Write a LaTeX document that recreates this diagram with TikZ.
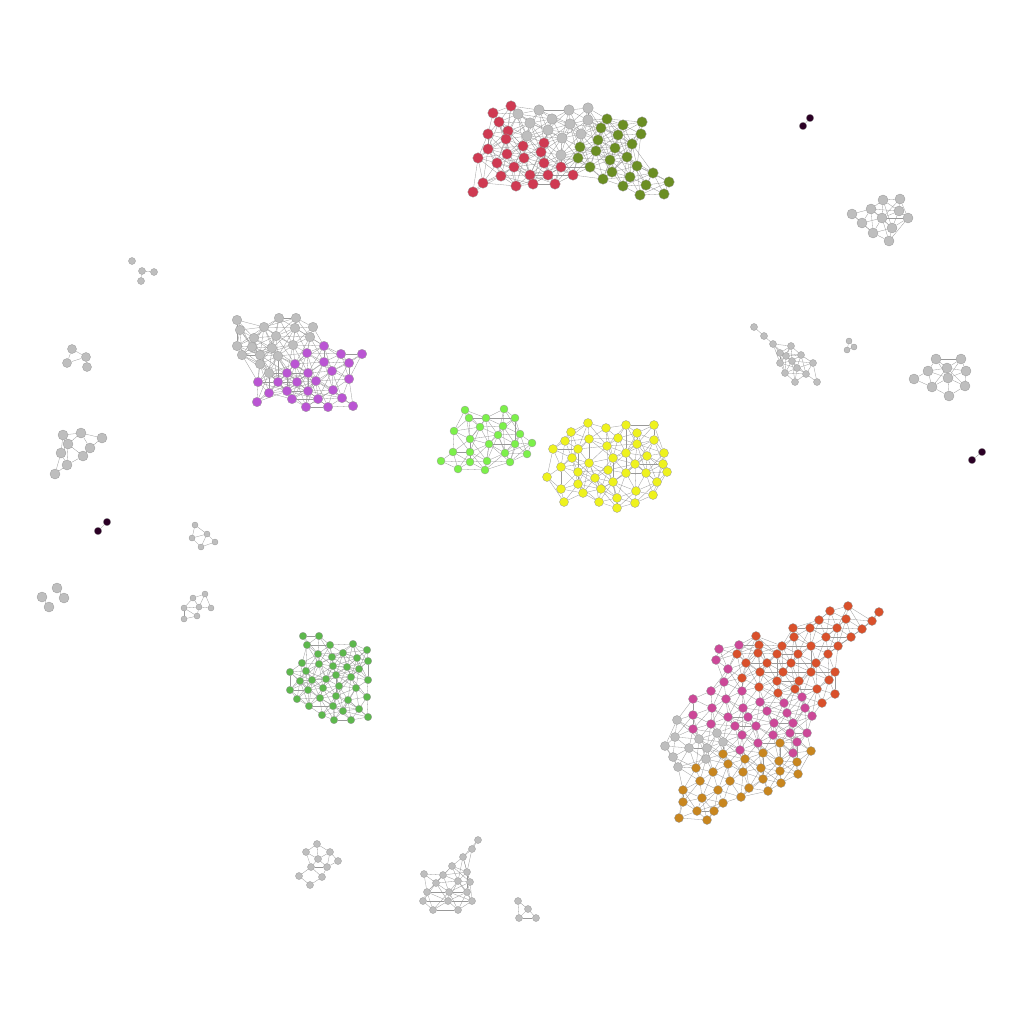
\documentclass[tikz,border=0pt]{standalone}
\usetikzlibrary{backgrounds}
\definecolor{cred}{HTML}{CF3A52}
\definecolor{colive}{HTML}{6B8E23}
\definecolor{cgray}{HTML}{BEBEBE}
\definecolor{cpurple}{HTML}{BA55D3}
\definecolor{clime}{HTML}{7CF04A}
\definecolor{cyellow}{HTML}{EEF21E}
\definecolor{cgreen}{HTML}{5DB84C}
\definecolor{corange}{HTML}{D9502B}
\definecolor{cmagenta}{HTML}{CC4898}
\definecolor{cgold}{HTML}{C8861F}
\definecolor{cdark}{HTML}{2B0025}
% one component: prefix, link distance, node size, list x/y/colour
\newcommand\drawnet[4]{%
  \foreach \xa/\ya/\ca [count=\i] in {#4} {
    \node[netnode, minimum size=#3pt, fill=\ca] (#1\i) at (\xa,\ya) {};
  }
  \begin{scope}[on background layer]
  \foreach \xa/\ya/\ca [count=\i] in {#4} {
    \foreach \xb/\yb/\cb [count=\j] in {#4} {
      \ifnum\j>\i
        \pgfmathtruncatemacro\netnear{veclen((\xa-\xb)/10,(\ya-\yb)/10)<#2/10}
        \ifnum\netnear=1 \draw[netedge] (#1\i) -- (#1\j); \fi
      \fi
    }
  }
  \end{scope}
}
\begin{document}
\begin{tikzpicture}[
  x=1pt, y=-1pt,
  netnode/.style = {circle, draw=gray!80, line width=0.3pt, inner sep=0pt},
  netedge/.style = {draw=gray!80, line width=0.3pt}
]
  \useasboundingbox (0,0) rectangle (1024,1024);
  \begin{scope}[on background layer]
    \fill[white] (0,0) rectangle (1024,1024);
  \end{scope}
  % top: red, gray, olive
  \drawnet{t}{36}{10.5}{511/106/cred, 493/113/cred, 499/122/cred, 508/131/cred, 488/134/cred, 506/139/cred, 488/149/cred, 478/158/cred, 497/163/cred, 507/154/cred, 514/167/cred, 523/146/cred, 524/158/cred, 544/143/cred, 541/152/cred, 544/163/cred, 530/175/cred, 548/175/cred, 561/167/cred, 573/175/cred, 555/184/cred, 533/184/cred, 516/186/cred, 501/176/cred, 483/183/cred, 473/192/cred,
    518/114/cgray, 539/110/cgray, 569/110/cgray, 588/108/cgray, 530/123/cgray, 552/119/cgray, 570/124/cgray, 588/120/cgray, 527/136/cgray, 548/130/cgray, 562/138/cgray, 581/134/cgray, 561/155/cgray,
    607/119/colive, 623/125/colive, 642/122/colive, 601/128/colive, 618/135/colive, 641/134/colive, 598/140/colive, 580/147/colive, 615/148/colive, 632/144/colive, 578/158/colive, 596/151/colive, 610/160/colive, 627/157/colive, 590/167/colive, 612/172/colive, 637/166/colive, 603/179/colive, 630/177/colive, 653/173/colive, 623/186/colive, 646/185/colive, 669/182/colive, 640/195/colive, 664/194/colive}
  % left: gray and purple
  \drawnet{p}{35}{9.5}{237/320/cgray, 279/318/cgray, 296/318/cgray, 240/330/cgray, 264/327/cgray, 295/328/cgray, 313/327/cgray, 254/338/cgray, 276/336/cgray, 310/337/cgray, 237/346/cgray, 252/347/cgray, 272/348/cgray, 293/345/cgray, 242/355/cgray, 260/355/cgray, 278/356/cgray, 260/364/cgray, 269/373/cgray,
    324/346/cpurple, 307/353/cpurple, 341/354/cpurple, 362/354/cpurple, 324/362/cpurple, 295/364/cpurple, 349/363/cpurple, 287/373/cpurple, 308/373/cpurple, 332/371/cpurple, 258/382/cpurple, 278/382/cpurple, 297/382/cpurple, 316/381/cpurple, 349/379/cpurple, 269/393/cpurple, 287/391/cpurple, 308/391/cpurple, 333/390/cpurple, 292/399/cpurple, 318/399/cpurple, 342/398/cpurple, 257/402/cpurple, 306/407/cpurple, 328/407/cpurple, 353/406/cpurple}
  % centre: lime
  \drawnet{l}{30}{8}{465/410/clime, 504/409/clime, 469/418/clime, 486/418/clime, 515/418/clime, 454/431/clime, 480/427/clime, 503/426/clime, 470/439/clime, 498/435/clime, 520/434/clime, 489/444/clime, 515/444/clime, 532/443/clime, 453/452/clime, 470/452/clime, 505/453/clime, 527/454/clime, 441/461/clime, 470/462/clime, 487/461/clime, 510/462/clime, 458/469/clime, 485/470/clime}
  % centre: yellow
  \drawnet{y}{31}{9}{588/423/cyellow, 626/425/cyellow, 654/425/cyellow, 571/432/cyellow, 606/428/cyellow, 637/433/cyellow, 618/438/cyellow, 565/441/cyellow, 589/439/cyellow, 654/440/cyellow, 637/444/cyellow, 553/449/cyellow, 578/449/cyellow, 607/446/cyellow, 626/453/cyellow, 664/453/cyellow, 647/456/cyellow, 572/458/cyellow, 589/463/cyellow, 613/458/cyellow, 635/464/cyellow, 663/464/cyellow, 561/467/cyellow, 608/470/cyellow, 626/473/cyellow, 646/473/cyellow, 667/472/cyellow, 578/472/cyellow, 547/477/cyellow, 595/478/cyellow, 613/482/cyellow, 657/482/cyellow, 561/489/cyellow, 578/484/cyellow, 583/493/cyellow, 601/489/cyellow, 636/491/cyellow, 617/498/cyellow, 653/495/cyellow, 564/502/cyellow, 599/502/cyellow, 635/503/cyellow, 617/508/cyellow}
  % lower left: green
  \drawnet{g}{27}{7.5}{303/636/cgreen, 319/636/cgreen, 307/645/cgreen, 330/645/cgreen, 353/644/cgreen, 318/654/cgreen, 332/657/cgreen, 343/653/cgreen, 357/658/cgreen, 367/650/cgreen, 302/663/cgreen, 319/664/cgreen, 333/666/cgreen, 347/667/cgreen, 368/661/cgreen, 290/672/cgreen, 306/671/cgreen, 359/669/cgreen, 336/675/cgreen, 351/677/cgreen, 300/681/cgreen, 312/680/cgreen, 326/679/cgreen, 368/680/cgreen, 290/690/cgreen, 308/690/cgreen, 323/688/cgreen, 339/686/cgreen, 356/688/cgreen, 297/699/cgreen, 320/698/cgreen, 336/696/cgreen, 348/700/cgreen, 367/697/cgreen, 309/706/cgreen, 333/706/cgreen, 343/711/cgreen, 359/709/cgreen, 322/715/cgreen, 334/720/cgreen, 351/720/cgreen, 368/717/cgreen}
  % lower right: orange, magenta, gray, gold
  \drawnet{b}{30}{9}{848/606/corange, 830/611/corange, 879/612/corange, 819/620/corange, 846/619/corange, 872/621/corange, 793/628/corange, 810/628/corange, 837/628/corange, 862/629/corange, 794/637/corange, 826/637/corange, 851/637/corange, 756/636/corange, 759/645/corange, 782/646/corange, 811/646/corange, 838/646/corange, 737/654/corange, 758/653/corange, 777/654/corange, 798/654/corange, 828/654/corange, 746/663/corange, 767/663/corange, 791/663/corange, 816/663/corange, 760/672/corange, 783/672/corange, 811/672/corange, 835/672/corange, 742/678/corange, 777/681/corange, 799/681/corange, 829/680/corange, 759/687/corange, 795/689/corange, 817/689/corange, 778/693/corange, 835/694/corange, 822/703/corange,
    739/645/cmagenta, 719/649/cmagenta, 716/660/cmagenta, 728/669/cmagenta, 724/682/cmagenta, 711/691/cmagenta, 742/691/cmagenta, 693/699/cmagenta, 726/699/cmagenta, 760/702/cmagenta, 784/703/cmagenta, 802/697/cmagenta, 712/708/cmagenta, 743/708/cmagenta, 767/711/cmagenta, 787/713/cmagenta, 805/708/cmagenta, 693/715/cmagenta, 728/717/cmagenta, 748/717/cmagenta, 812/716/cmagenta, 693/729/cmagenta, 711/724/cmagenta, 735/726/cmagenta, 756/726/cmagenta, 774/723/cmagenta, 793/723/cmagenta, 742/735/cmagenta, 773/735/cmagenta, 790/733/cmagenta, 807/733/cmagenta, 758/743/cmagenta, 797/742/cmagenta, 740/750/cmagenta, 793/753/cmagenta,
    677/720/cgray, 675/737/cgray, 665/746/cgray, 689/748/cgray, 699/739/cgray, 717/733/cgray, 723/742/cgray, 707/748/cgray, 673/757/cgray, 706/759/cgray, 678/767/cgray,
    723/754/cgold, 745/759/cgold, 763/753/cgold, 780/743/cgold, 811/751/cgold, 779/761/cgold, 797/762/cgold, 696/768/cgold, 728/764/cgold, 713/772/cgold, 743/772/cgold, 761/768/cgold, 780/771/cgold, 798/774/cgold, 700/781/cgold, 730/781/cgold, 763/779/cgold, 781/783/cgold, 683/790/cgold, 718/790/cgold, 749/788/cgold, 768/791/cgold, 702/798/cgold, 741/797/cgold, 683/802/cgold, 723/803/cgold, 697/811/cgold, 714/811/cgold, 679/818/cgold, 707/820/cgold}
  % small gray groups
  \drawnet{sa}{30}{10}{883/200/cgray, 900/199/cgray, 852/214/cgray, 871/209/cgray, 899/211/cgray, 882/218/cgray, 908/218/cgray, 862/223/cgray, 892/228/cgray, 873/233/cgray, 889/241/cgray}
  \drawnet{sb}{22}{7}{754/327/cgray, 764/336/cgray, 773/344/cgray, 791/346/cgray, 780/353/cgray, 786/356/cgray, 801/355/cgray, 780/363/cgray, 792/361/cgray, 813/363/cgray, 797/368/cgray, 785/373/cgray, 806/374/cgray, 795/382/cgray, 817/382/cgray}
  \drawnet{sc}{12}{6}{849/341/cgray, 854/347/cgray, 847/350/cgray}
  \drawnet{sd}{26}{10}{936/359/cgray, 961/359/cgray, 928/371/cgray, 947/368/cgray, 966/371/cgray, 914/379/cgray, 948/378/cgray, 932/387/cgray, 965/386/cgray, 949/396/cgray}
  \drawnet{se}{14}{7}{132/261/cgray, 142/271/cgray, 154/272/cgray, 141/281/cgray}
  \drawnet{sf}{20}{9}{72/349/cgray, 86/357/cgray, 67/363/cgray, 87/367/cgray}
  \drawnet{sg}{22}{10}{63/435/cgray, 81/433/cgray, 102/438/cgray, 68/444/cgray, 90/448/cgray, 61/453/cgray, 83/456/cgray, 67/465/cgray, 55/474/cgray}
  \drawnet{sh}{16}{6}{195/525/cgray, 207/534/cgray, 192/538/cgray, 201/547/cgray, 215/542/cgray}
  \drawnet{si}{17}{10}{57/588/cgray, 42/597/cgray, 64/598/cgray, 49/607/cgray}
  \drawnet{sj}{16}{6}{205/594/cgray, 193/598/cgray, 199/607/cgray, 184/608/cgray, 211/608/cgray, 197/616/cgray, 184/619/cgray}
  \drawnet{sk}{18}{7}{317/844/cgray, 306/852/cgray, 330/852/cgray, 318/859/cgray, 327/867/cgray, 338/861/cgray, 311/867/cgray, 299/876/cgray, 322/877/cgray, 310/885/cgray}
  \drawnet{sl}{26}{7}{478/840/cgray, 472/849/cgray, 463/857/cgray, 452/866/cgray, 443/875/cgray, 424/874/cgray, 467/872/cgray, 436/883/cgray, 458/881/cgray, 470/882/cgray, 427/892/cgray, 449/892/cgray, 467/892/cgray, 423/901/cgray, 448/901/cgray, 472/901/cgray, 433/910/cgray, 458/910/cgray}
  \drawnet{sm}{18}{7}{518/901/cgray, 528/909/cgray, 519/918/cgray, 536/918/cgray}
  % dark pairs
  \drawnet{da}{15}{7.5}{810/118/cdark, 803/126/cdark}
  \drawnet{db}{15}{7.5}{982/452/cdark, 972/460/cdark}
  \drawnet{dc}{15}{7.5}{107/522/cdark, 98/531/cdark}
\end{tikzpicture}
\end{document}
